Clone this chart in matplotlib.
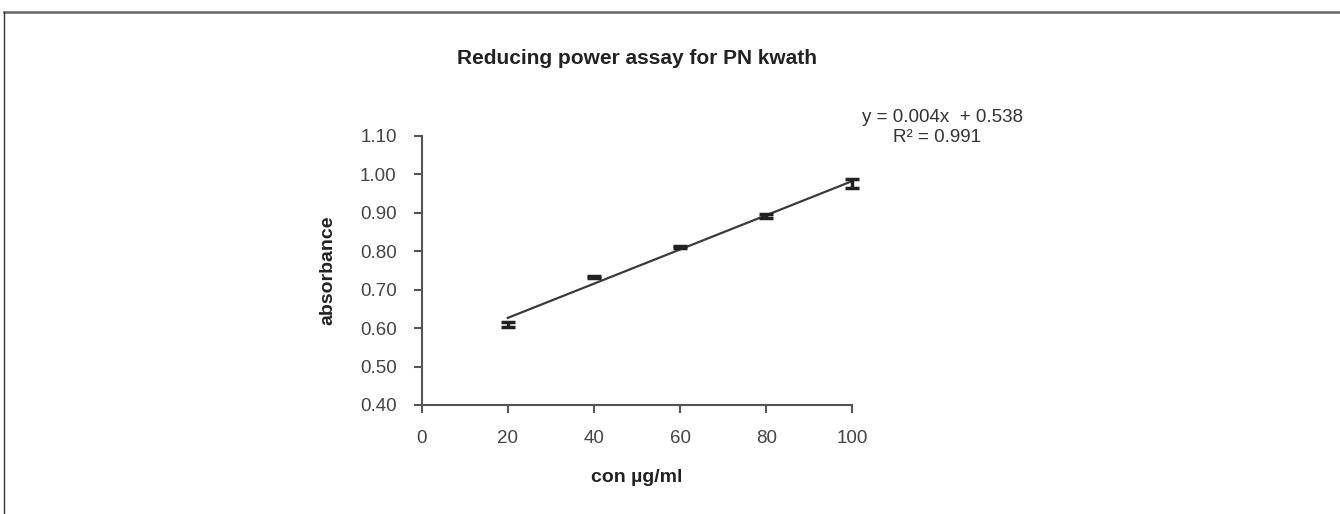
import numpy as np
import matplotlib.pyplot as plt
from matplotlib.lines import Line2D

plt.rcParams['font.family'] = ['Liberation Sans', 'DejaVu Sans']

# data
conc = [20, 40, 60, 80, 100]
absorbance = [0.610, 0.733, 0.811, 0.892, 0.975]
err = [0.006, 0.003, 0.003, 0.005, 0.012]
x_ticks = [0, 20, 40, 60, 80, 100]
y_ticks = [0.40, 0.50, 0.60, 0.70, 0.80, 0.90, 1.00, 1.10]

fig = plt.figure(figsize=(13.4, 5.14), dpi=100)
ax = fig.add_axes([0.3147, 0.2121, 0.3213, 0.5239])

# linear trendline
slope, intercept = np.polyfit(conc, absorbance, 1)
xs = np.array([conc[0], conc[-1]])
ax.plot(xs, slope * xs + intercept, color='#3a3a3a', lw=1.6, zorder=2)

eb = ax.errorbar(conc, absorbance, yerr=err, fmt='none', ecolor='#222222',
                 elinewidth=2.5, capsize=5, capthick=2.5, zorder=3)
for art in eb.lines[1] + eb.lines[2]:
    art.set_clip_on(False)

ax.set_xlim(0, 100)
ax.set_ylim(0.40, 1.10)
ax.set_xticks(x_ticks)
ax.set_yticks(y_ticks)
ax.set_yticklabels(['%.2f' % v for v in y_ticks])
for s in ['top', 'right']:
    ax.spines[s].set_visible(False)
for s in ['left', 'bottom']:
    ax.spines[s].set_color('#555555')
    ax.spines[s].set_linewidth(1.5)
ax.tick_params(direction='out', length=6, width=1.5, color='#555555',
               labelsize=13.5, labelcolor='#444444', pad=12)

ax.set_ylabel('absorbance', fontsize=14, fontweight='bold', color='#222222')
ax.yaxis.set_label_coords(-0.199, 0.5)
fig.text(0.4754, 1 - 477 / 514, 'con µg/ml', ha='center', va='center',
         fontsize=14, fontweight='bold', color='#222222')
fig.text(0.4754, 1 - 58 / 514, 'Reducing power assay for PN kwath', ha='center',
         va='center', fontsize=15, fontweight='bold', color='#222222')

fig.text(943 / 1340, 1 - 117 / 514, 'y = %.3fx  + %.3f' % (slope, intercept),
         ha='center', va='center', fontsize=13.5, color='#333333')
fig.text(937 / 1340, 1 - 138 / 514, 'R² = 0.991', ha='center', va='center',
         fontsize=13.5, color='#333333')

# outer frame lines (top and left)
fig.add_artist(Line2D([4 / 1340, 1], [1 - 12 / 514, 1 - 12 / 514],
                      transform=fig.transFigure, color='#666666', lw=1.8))
fig.add_artist(Line2D([4 / 1340, 4 / 1340], [0, 1 - 12 / 514],
                      transform=fig.transFigure, color='#333333', lw=1.0))

fig.savefig('out.png', dpi=100)
